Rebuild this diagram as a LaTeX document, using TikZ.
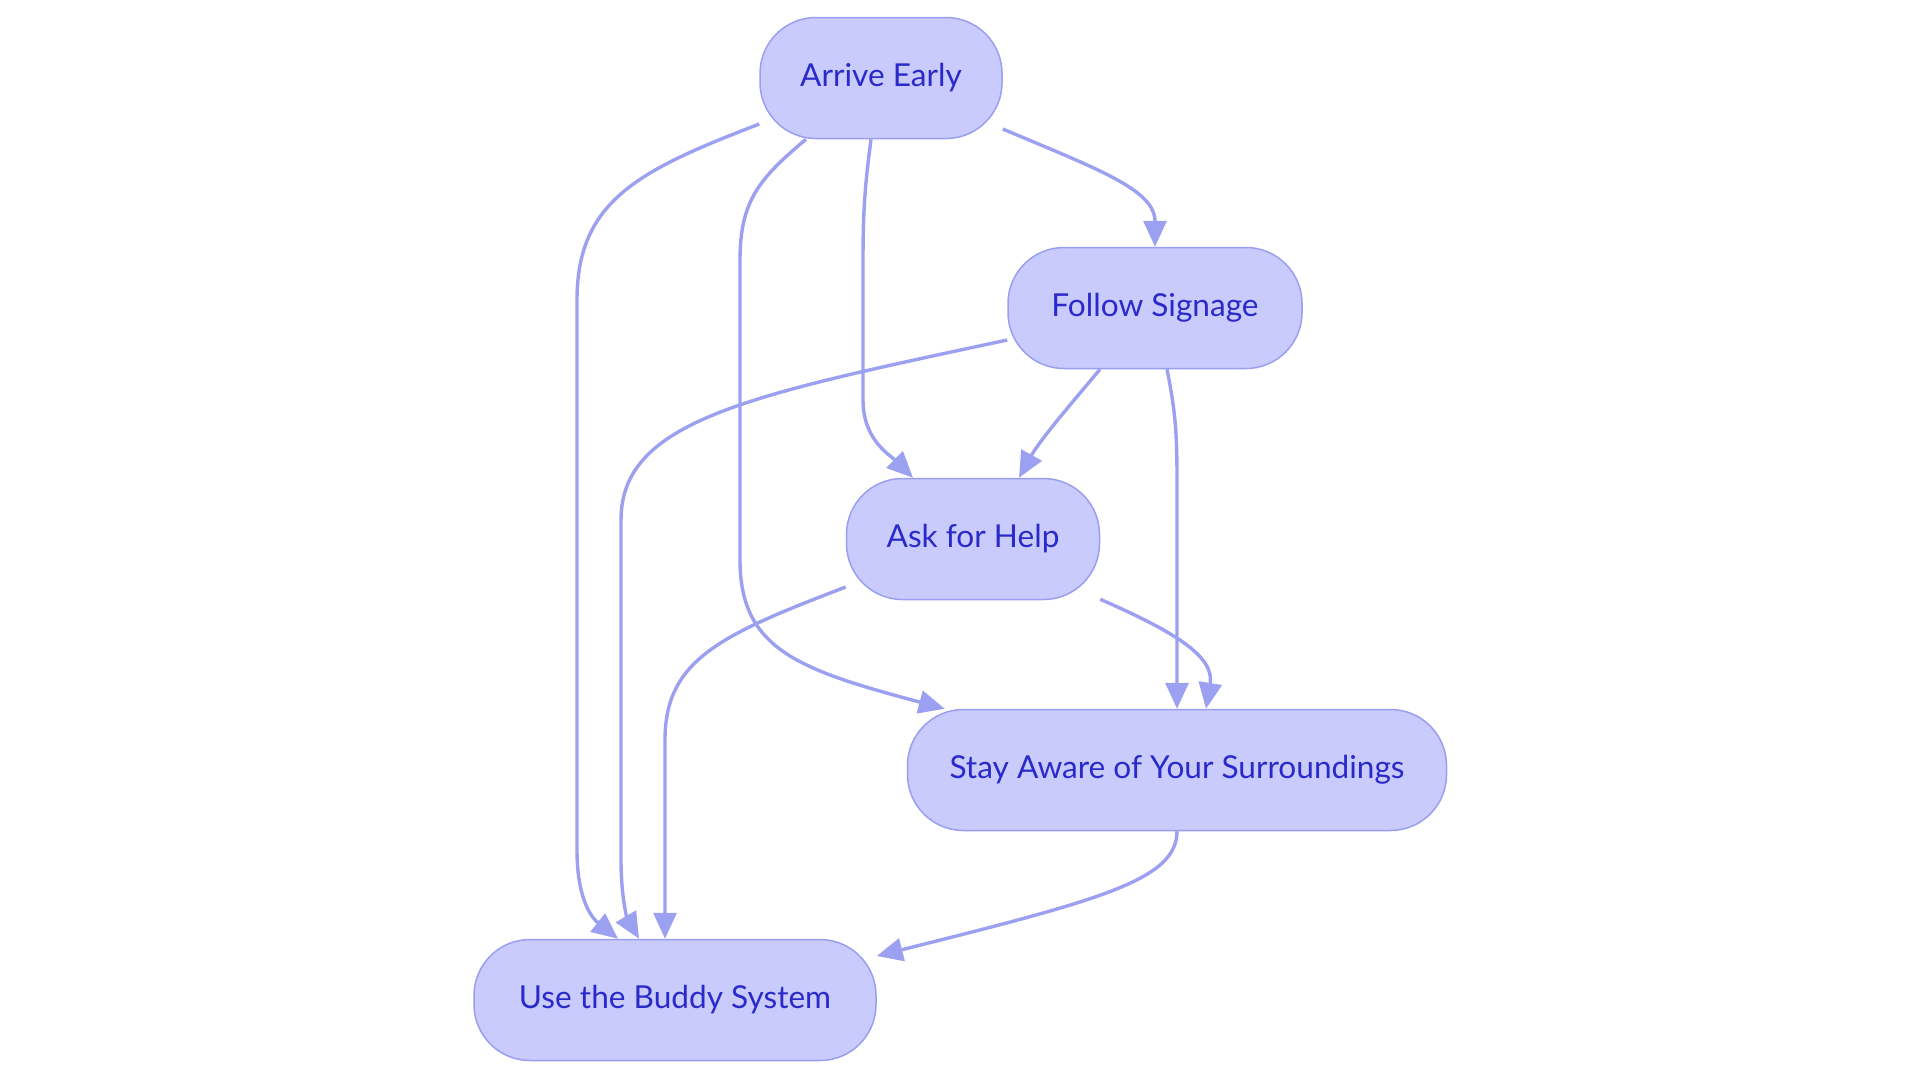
\documentclass[tikz,border=0pt]{standalone}
\usepackage{fontspec}
\setmainfont{Lato}
\usetikzlibrary{arrows.meta,calc}
\definecolor{nodefill}{HTML}{C9CBFC}
\definecolor{nodeline}{HTML}{9A9EF0}
\definecolor{edgecol}{HTML}{9CA0F0}
\definecolor{txt}{HTML}{2A2ACB}
\begin{document}
\begin{tikzpicture}[x=0.5pt,y=-0.5pt,
  box/.style={draw=nodeline, line width=0.75pt, fill=nodefill, rounded corners=28pt,
    minimum height=60.5pt, inner sep=0pt, text=txt, font=\fontsize{15.8}{19}\selectfont},
  link/.style={draw=edgecol, line width=1.7pt, -{Triangle[length=13pt,width=11.5pt]}}]
\useasboundingbox (0,0) rectangle (1920,1083);
\node[box, minimum width=121pt] (ae) at (881,78) {Arrive Early};
\node[box, minimum width=147pt] (fs) at (1155,308) {Follow Signage};
\node[box, minimum width=126.5pt] (ah) at (973,539) {Ask for Help};
\node[box, minimum width=269.5pt] (sa) at (1177,770) {Stay Aware of Your Surroundings};
\node[box, minimum width=201pt] (ub) at (675,1000) {Use the Buddy System};
% Arrive Early -> Use the Buddy System
\draw[link] ($(ae.west)+(0,46)$) .. controls (640,170) and (577,200) .. (577,300) -- (577,850) .. controls (577,900) and (592,918) .. ($(ub.north)+(-57,0)$);
% Arrive Early -> Stay Aware
\draw[link] ($(ae.south)+(-75,0)$) .. controls (760,178) and (740,200) .. (740,260) -- (740,560) .. controls (740,650) and (800,670) .. ($(sa.north west)+(38,0)$);
% Arrive Early -> Ask for Help
\draw[link] ($(ae.south)+(-10,0)$) .. controls (865,185) and (863,210) .. (863,260) -- (863,400) .. controls (863,440) and (890,455) .. ($(ah.north)+(-60,0)$);
% Arrive Early -> Follow Signage
\draw[link] ($(ae.east)+(0,51)$) .. controls (1100,170) and (1155,190) .. (fs.north);
% Follow Signage -> Use the Buddy System
\draw[link] ($(fs.west)+(0,32)$) .. controls (750,395) and (621,420) .. (621,520) -- (621,860) .. controls (621,900) and (628,920) .. ($(ub.north)+(-36,0)$);
% Follow Signage -> Ask for Help
\draw[link] ($(fs.south)+(-55,0)$) .. controls (1070,405) and (1040,440) .. ($(ah.north)+(46,0)$);
% Follow Signage -> Stay Aware
\draw[link] ($(fs.south)+(12,0)$) .. controls (1175,410) and (1177,430) .. (1177,480) -- (sa.north);
% Ask for Help -> Use the Buddy System
\draw[link] ($(ah.west)+(0,48)$) .. controls (720,635) and (665,660) .. (665,740) -- ($(ub.north)+(-10,0)$);
% Ask for Help -> Stay Aware
\draw[link] ($(ah.south east)+(0,-1)$) .. controls (1170,630) and (1215,655) .. ($(sa.north)+(29,0)$);
% Stay Aware -> Use the Buddy System
\draw[link] (sa.south) .. controls (1177,880) and (1100,900) .. ($(ub.east)+(0,-44)$);
\end{tikzpicture}
\end{document}
